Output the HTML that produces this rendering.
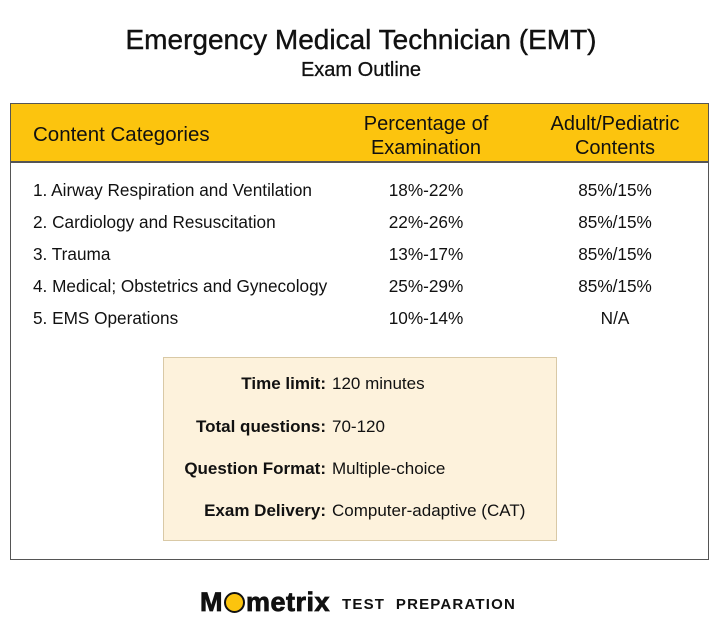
<!DOCTYPE html>
<html><head><style>
body{margin:0;width:720px;height:644px;background:#fff;font-family:"Liberation Sans",sans-serif;color:#111;position:relative;overflow:hidden}
.a{position:absolute;white-space:nowrap}
.c{transform:translateX(-50%);text-align:center}
.r{transform:translateX(-100%);text-align:right}
</style></head><body>
<div class="a c" style="left:361px;top:24px;font-size:28px;font-weight:500;-webkit-text-stroke:0.4px #111">Emergency Medical Technician (EMT)</div>
<div class="a c" style="left:361px;top:59px;font-size:20px;-webkit-text-stroke:0.3px #111">Exam Outline</div>
<div class="a" style="left:10px;top:103px;width:697px;height:455px;border:1.5px solid #555"></div>
<div class="a" style="left:11px;top:104px;width:697px;height:57px;background:#fcc40e;border-bottom:2px solid #555"></div>
<div class="a" style="left:33px;top:123px;font-size:20.5px">Content Categories</div>
<div class="a c" style="left:426px;top:112px;font-size:20px;line-height:24px">Percentage of<br>Examination</div>
<div class="a c" style="left:615px;top:112px;font-size:20px;line-height:24px">Adult/Pediatric<br>Contents</div>
<div style="font-size:17.2px">
<div class="a" style="left:33px;top:180px">1. Airway Respiration and Ventilation</div>
<div class="a" style="left:33px;top:212px">2. Cardiology and Resuscitation</div>
<div class="a" style="left:33px;top:244px">3. Trauma</div>
<div class="a" style="left:33px;top:276px">4. Medical; Obstetrics and Gynecology</div>
<div class="a" style="left:33px;top:308px">5. EMS Operations</div>
<div class="a c" style="left:426px;top:180px">18%-22%</div>
<div class="a c" style="left:426px;top:212px">22%-26%</div>
<div class="a c" style="left:426px;top:244px">13%-17%</div>
<div class="a c" style="left:426px;top:276px">25%-29%</div>
<div class="a c" style="left:426px;top:308px">10%-14%</div>
<div class="a c" style="left:615px;top:180px">85%/15%</div>
<div class="a c" style="left:615px;top:212px">85%/15%</div>
<div class="a c" style="left:615px;top:244px">85%/15%</div>
<div class="a c" style="left:615px;top:276px">85%/15%</div>
<div class="a c" style="left:615px;top:308px">N/A</div>
</div>
<div class="a" style="left:163px;top:357px;width:392px;height:182px;background:#fdf2dc;border:1.5px solid #d9c9a6"></div>
<div style="font-size:17px">
<div class="a r" style="left:326px;top:374px;font-weight:bold">Time limit:</div>
<div class="a" style="left:332px;top:374px">120 minutes</div>
<div class="a r" style="left:326px;top:417px;font-weight:bold">Total questions:</div>
<div class="a" style="left:332px;top:417px">70-120</div>
<div class="a r" style="left:326px;top:459px;font-weight:bold">Question Format:</div>
<div class="a" style="left:332px;top:459px">Multiple-choice</div>
<div class="a r" style="left:326px;top:501px;font-weight:bold">Exam Delivery:</div>
<div class="a" style="left:332px;top:501px">Computer-adaptive (CAT)</div>
</div>
<div class="a" style="left:200px;top:587px;font-size:27px;font-weight:900;letter-spacing:0.5px;-webkit-text-stroke:0.8px #111">M<span style="display:inline-block;width:21px;height:21px;border-radius:50%;background:#fcc40e;border:2.5px solid #111;box-sizing:border-box;vertical-align:-2px;margin:0 1px"></span>metrix</div>
<div class="a" style="left:342px;top:596px;font-size:15px;font-weight:bold;letter-spacing:1.2px">TEST&nbsp; PREPARATION</div>
</body></html>
